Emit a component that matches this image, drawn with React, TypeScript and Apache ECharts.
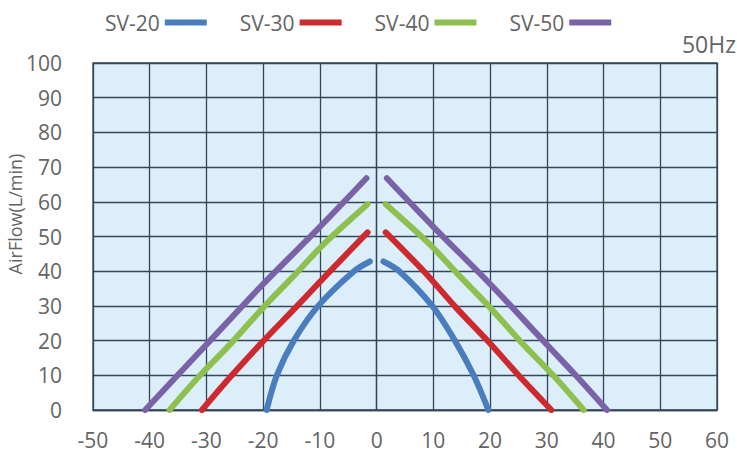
import React, { useEffect, useRef } from "react";
import * as echarts from "echarts";

const seriesNames = ["SV-20", "SV-30", "SV-40", "SV-50"];
const seriesColors = ["#4a7dbd", "#cc2a2e", "#8fc04f", "#7a62a8"];

const sv20Left = [[-19.4, 0], [-17.6, 10], [-14.6, 20], [-10.3, 30], [-4, 40], [-1.2, 42.8]];
const sv20Right = [[1.2, 42.8], [4, 40], [9.8, 30], [13.8, 20], [17.1, 10], [19.7, 0]];
const sv30Left = [[-30.8, 0], [-25.8, 9.5], [-20.2, 19.5], [-14.3, 29.5], [-8.5, 39.5], [-1.6, 51.2]];
const sv30Right = [[1.6, 51.2], [8.6, 39.5], [14, 29.5], [19.8, 19.5], [25.3, 9.5], [30.8, 0]];
const sv40Left = [[-36.5, 0], [-31.4, 9.5], [-25.5, 19.5], [-20, 29.5], [-14.4, 39], [-9.2, 48], [-1.6, 59.3]];
const sv40Right = [[1.6, 59.3], [9.2, 48], [14.4, 39], [20, 29.5], [25.5, 19.5], [31.4, 9.5], [36.5, 0]];
const sv50Left = [[-40.8, 0], [-35.5, 9.3], [-30.2, 18.5], [-20, 36.3], [-10, 52.8], [-1.8, 66.8]];
const sv50Right = [[1.8, 66.8], [10, 52.8], [20, 36.3], [30.2, 18.5], [35.5, 9.3], [40.6, 0]];

const seriesData = [
  [sv20Left, sv20Right],
  [sv30Left, sv30Right],
  [sv40Left, sv40Right],
  [sv50Left, sv50Right],
];

const xMin = -50, xMax = 60, xStep = 10;
const yMin = 0, yMax = 100, yStep = 10;
const yAxisTitle = "AirFlow(L/min)";
const freqLabel = "50Hz";

const FONT = "'Open Sans', 'Noto Sans', sans-serif";
const TEXT_COLOR = "#646464";
const GRID_COLOR = "#34475a";

export default function App() {
  const ref = useRef<HTMLDivElement>(null);
  useEffect(() => {
    if (!ref.current) return;
    const chart = echarts.init(ref.current, undefined, { renderer: "svg" });
    const series: any[] = [];
    seriesNames.forEach((name, i) => {
      const data = [...seriesData[i][0], [0, "-"], ...seriesData[i][1]];
      series.push({
        name,
        type: "line",
        data,
        smooth: 0.3,
        showSymbol: false,
        symbol: "none",
        connectNulls: false,
        color: seriesColors[i],
        lineStyle: { width: 6, color: seriesColors[i], cap: "round", join: "round" },
        itemStyle: { color: seriesColors[i] },
      });
    });
    chart.setOption({
      animation: false,
      backgroundColor: "#ffffff",
      legend: {
        data: seriesNames,
        top: 7,
        left: 100,
        align: "right",
        icon: "rect",
        itemWidth: 42,
        itemHeight: 6,
        itemGap: 33,
        textStyle: { fontFamily: FONT, fontSize: 21, color: TEXT_COLOR },
      },
      graphic: [
        {
          type: "text",
          x: 15,
          y: 214,
          rotation: Math.PI / 2,
          style: {
            text: yAxisTitle,
            fontFamily: FONT,
            fontSize: 18,
            fill: TEXT_COLOR,
            textAlign: "center",
            textVerticalAlign: "middle",
          },
        },
        {
          type: "text",
          x: 736,
          y: 44,
          style: {
            text: freqLabel,
            fontFamily: FONT,
            fontSize: 23,
            fill: TEXT_COLOR,
            textAlign: "right",
            textVerticalAlign: "middle",
          },
        },
      ],
      grid: {
        left: 93,
        right: 20,
        top: 63,
        bottom: 44,
        show: true,
        backgroundColor: "#dceefa",
        borderColor: GRID_COLOR,
        borderWidth: 1.3,
      },
      xAxis: {
        type: "value",
        min: xMin,
        max: xMax,
        interval: xStep,
        axisLine: { show: true, lineStyle: { color: GRID_COLOR, width: 1.3 } },
        axisTick: { show: false },
        splitLine: { show: true, lineStyle: { color: GRID_COLOR, width: 1.3 } },
        axisLabel: { fontFamily: FONT, fontSize: 21, color: TEXT_COLOR, margin: 19 },
      },
      yAxis: {
        type: "value",
        min: yMin,
        max: yMax,
        interval: yStep,
        axisLine: { show: true, lineStyle: { color: GRID_COLOR, width: 1.3 } },
        axisTick: { show: false },
        splitLine: { show: true, lineStyle: { color: GRID_COLOR, width: 1.3 } },
        axisLabel: { fontFamily: FONT, fontSize: 21, color: TEXT_COLOR, margin: 31 },
      },
      series,
    });
    return () => chart.dispose();
  }, []);
  return <div ref={ref} style={{ width: 737, height: 454, position: "absolute", left: 0, top: 0 }} />;
}
